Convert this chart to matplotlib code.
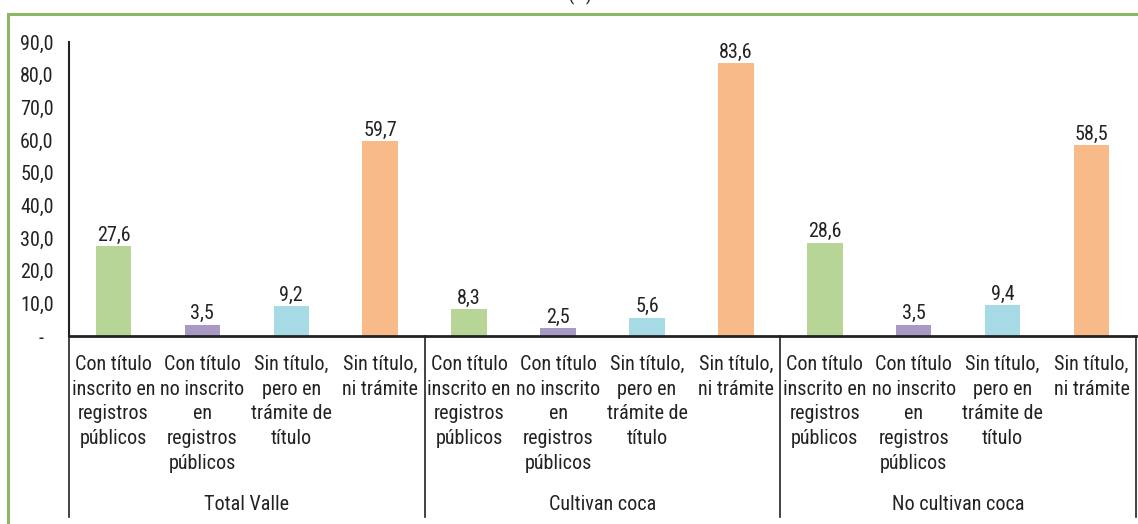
import numpy as np
import matplotlib
matplotlib.use("Agg")
from matplotlib import pyplot as plt
from matplotlib import font_manager as fm
from matplotlib.patches import Rectangle
from matplotlib.lines import Line2D
from matplotlib.transforms import blended_transform_factory

# narrow font like Arial Narrow if one is installed
installed = set(f.name for f in fm.fontManager.ttflist)
narrow = [n for n in ["Liberation Sans Narrow", "Arial Narrow", "Roboto Condensed",
                      "Archivo Narrow"] if n in installed]
if narrow:
    plt.rcParams['font.family'] = [narrow[0], 'Liberation Sans', 'DejaVu Sans']
    fs = 14.5
else:
    plt.rcParams['font.family'] = ['Liberation Sans', 'DejaVu Sans']
    fs = 13

# data
groups = ["Total Valle", "Cultivan coca", "No cultivan coca"]
categories = ["Con título\ninscrito en\nregistros\npúblicos",
              "Con título\nno inscrito\nen\nregistros\npúblicos",
              "Sin título,\npero en\ntrámite de\ntítulo",
              "Sin título,\nni trámite"]
total_valle = [27.6, 3.5, 9.2, 59.7]
cultivan = [8.3, 2.5, 5.6, 83.6]
no_cultivan = [28.6, 3.5, 9.4, 58.5]
yticks = [0, 10, 20, 30, 40, 50, 60, 70, 80, 90]

colors = ["#B7D597", "#A99AC5", "#A6DBE5", "#F9BA89"]
txt = "#222222"

W, H = 1138, 524
fig = plt.figure(figsize=(W / 100, H / 100), dpi=100)
ax = fig.add_axes([69 / W, (H - 336) / H, (1136 - 69) / W, (336 - 42) / H])

values = total_valle + cultivan + no_cultivan
x = np.arange(len(values))
bar_colors = colors * len(groups)
ax.bar(x, values, width=0.4, color=bar_colors)

for xi, v in zip(x, values):
    ax.annotate("{:.1f}".format(v).replace(".", ","), (xi, v),
                xytext=(0, 1), textcoords="offset points",
                ha="center", va="bottom", fontsize=fs, color=txt)

ax.set_xlim(-0.5, len(values) - 0.5)
ax.set_ylim(0, 90)
ax.set_yticks(yticks)
ax.set_yticklabels(["-  " if t == 0 else "{:.1f}".format(t).replace(".", ",") for t in yticks])
ax.tick_params(axis="y", length=0, pad=11, labelsize=fs, labelcolor=txt)
ax.set_xticks([])

for s in ["top", "right"]:
    ax.spines[s].set_visible(False)
ax.spines["left"].set_linewidth(1.5)
ax.spines["left"].set_color("#222222")
ax.spines["bottom"].set_linewidth(2)
ax.spines["bottom"].set_color("#222222")

# category labels and group labels under the axis
tr = blended_transform_factory(ax.transData, fig.transFigure)
for xi in x:
    ax.text(xi, (H - 355) / H, categories[xi % 4], transform=tr,
            ha="center", va="top", fontsize=fs, color=txt, linespacing=1.38)
for g, name in enumerate(groups):
    ax.text(g * 4 + 1.5, (H - 504) / H, name, transform=tr,
            ha="center", va="center", fontsize=fs, color=txt)
for b in [-0.5, 3.5, 7.5, 11.5]:
    fig.add_artist(Line2D([b, b], [(H - 336) / H, (H - 517) / H], transform=tr,
                          color="#222222", lw=1.2))

# title remnant (cut off at the top, as in the source) and green frame
fig.text(580 / W, (H - 5) / H, "(%)", ha="center", va="bottom", fontsize=fs, color=txt)
fig.add_artist(Rectangle((8 / W, -0.1), 1.2, (H - 14) / H + 0.1, transform=fig.transFigure,
                         fill=False, edgecolor="#8DB862", lw=2.2))

fig.savefig("out.png", dpi=100)
